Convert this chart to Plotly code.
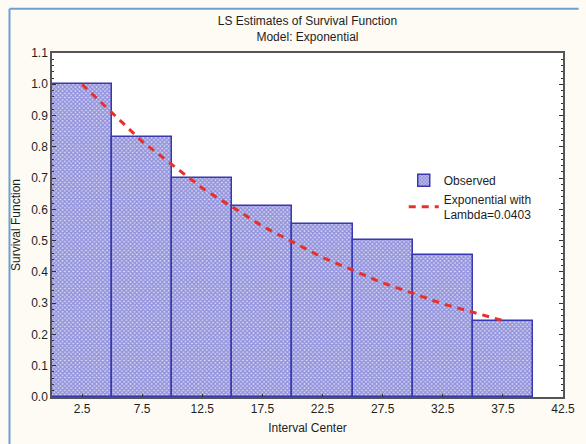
import plotly.graph_objects as go

# Data
interval_centers = [2.5, 7.5, 12.5, 17.5, 22.5, 27.5, 32.5, 37.5]
observed = [1.0, 0.832, 0.70, 0.612, 0.553, 0.503, 0.453, 0.242]
exponential = [1.0, 0.817, 0.668, 0.546, 0.446, 0.365, 0.298, 0.244]
x_ticks = [2.5, 7.5, 12.5, 17.5, 22.5, 27.5, 32.5, 37.5, 42.5]
y_ticks = [0.0, 0.1, 0.2, 0.3, 0.4, 0.5, 0.6, 0.7, 0.8, 0.9, 1.0, 1.1]

W, H = 586, 444
ML, MR, MT, MB = 52, 11, 53, 46
pw, ph = W - ML - MR, H - MT - MB

font = "Liberation Sans, Arial, sans-serif"

fig = go.Figure()
fig.add_trace(go.Bar(
    x=interval_centers, y=observed, width=5, name="Observed",
    marker=dict(color="#FFFFFF",
                line=dict(color="#3838B0", width=1.5),
                pattern=dict(shape="x", size=3, solidity=0.7,
                             fgcolor="#4848C6", bgcolor="#DADAF3")),
))
fig.add_trace(go.Scatter(
    x=interval_centers, y=exponential, mode="lines",
    name="Exponential with<br>Lambda=0.0403",
    line=dict(color="#E8302A", width=3, dash="7px,6px"),
))

def px_x(p):
    return (p - ML) / pw

def px_y(p):
    return 1 - (p - MT) / ph

border = "#6F9ED6"
fig.add_shape(type="line", xref="paper", yref="paper",
              x0=px_x(8.5), x1=px_x(W + 5), y0=px_y(8.5), y1=px_y(8.5),
              line=dict(color=border, width=2))
fig.add_shape(type="line", xref="paper", yref="paper",
              x0=px_x(8.5), x1=px_x(8.5), y0=px_y(8.5), y1=px_y(H + 5),
              line=dict(color=border, width=2))

fig.update_layout(
    width=W, height=H,
    margin=dict(l=ML, r=MR, t=MT, b=MB),
    paper_bgcolor="#FDFBF4", plot_bgcolor="#FFFFFF",
    font=dict(family=font, size=12, color="#1E1E1E"),
    bargap=0,
    title=dict(text="LS Estimates of Survival Function<br>Model: Exponential",
               x=0.5, xref="paper", xanchor="center",
               y=1 - 25 / H, yanchor="middle",
               font=dict(size=12, family=font, color="#1E1E1E")),
    showlegend=True,
    legend=dict(x=px_x(412), y=px_y(166), xanchor="left", yanchor="top",
                bgcolor="rgba(0,0,0,0)", borderwidth=0,
                font=dict(size=12, family=font, color="#1E1E1E"),
                itemwidth=30, tracegroupgap=0),
    xaxis=dict(range=[0, 42.5], tickvals=x_ticks,
               ticktext=[f"{v:.1f}" for v in x_ticks],
               ticks="inside", ticklen=3, tickcolor="#333",
               showgrid=False, zeroline=False,
               showline=True, linecolor="#555", linewidth=1.5, mirror=True,
               title=dict(text="Interval Center", standoff=8,
                          font=dict(size=12, family=font)),
               tickfont=dict(size=12)),
    yaxis=dict(range=[0, 1.1], tickvals=y_ticks,
               ticktext=[f"{v:.1f}" for v in y_ticks],
               ticks="inside", ticklen=4, tickcolor="#333",
               minor=dict(ticks="inside", ticklen=2, dtick=0.02, tickcolor="#333"),
               showgrid=False, zeroline=False,
               showline=True, linecolor="#555", linewidth=1.5, mirror="ticks",
               title=dict(text="Survival Function", standoff=8,
                          font=dict(size=12, family=font)),
               tickfont=dict(size=12)),
)

fig.write_html("out.html")
